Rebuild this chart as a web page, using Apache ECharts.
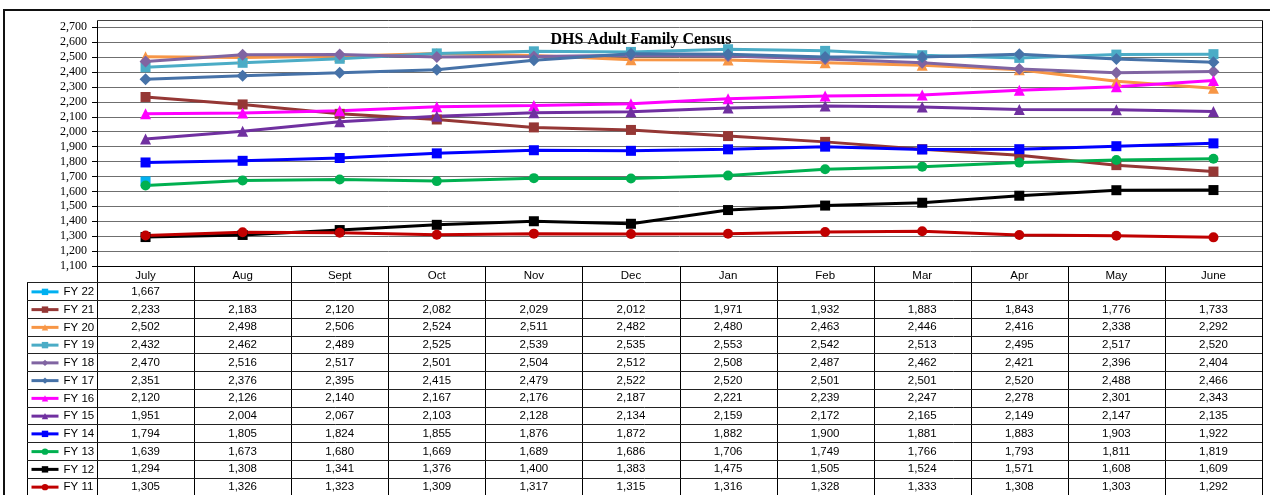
<!DOCTYPE html>
<html>
<head>
<meta charset="utf-8">
<title>DHS Adult Family Census</title>
<script src="https://cdn.jsdelivr.net/npm/echarts@6/dist/echarts.min.js"></script>
<style>
    html, body { margin: 0; padding: 0; background: #fff; }
    #container { width: 1270px; height: 495px; }
</style>
</head>
<body>
<div id="container"></div>
<script>
let months = ['July', 'Aug', 'Sept', 'Oct', 'Nov', 'Dec', 'Jan', 'Feb', 'Mar', 'Apr', 'May', 'June'];

let fy22 = [1667, null, null, null, null, null, null, null, null, null, null, null];
let fy21 = [2233, 2183, 2120, 2082, 2029, 2012, 1971, 1932, 1883, 1843, 1776, 1733];
let fy20 = [2502, 2498, 2506, 2524, 2511, 2482, 2480, 2463, 2446, 2416, 2338, 2292];
let fy19 = [2432, 2462, 2489, 2525, 2539, 2535, 2553, 2542, 2513, 2495, 2517, 2520];
let fy18 = [2470, 2516, 2517, 2501, 2504, 2512, 2508, 2487, 2462, 2421, 2396, 2404];
let fy17 = [2351, 2376, 2395, 2415, 2479, 2522, 2520, 2501, 2501, 2520, 2488, 2466];
let fy16 = [2120, 2126, 2140, 2167, 2176, 2187, 2221, 2239, 2247, 2278, 2301, 2343];
let fy15 = [1951, 2004, 2067, 2103, 2128, 2134, 2159, 2172, 2165, 2149, 2147, 2135];
let fy14 = [1794, 1805, 1824, 1855, 1876, 1872, 1882, 1900, 1881, 1883, 1903, 1922];
let fy13 = [1639, 1673, 1680, 1669, 1689, 1686, 1706, 1749, 1766, 1793, 1811, 1819];
let fy12 = [1294, 1308, 1341, 1376, 1400, 1383, 1475, 1505, 1524, 1571, 1608, 1609];
let fy11 = [1305, 1326, 1323, 1309, 1317, 1315, 1316, 1328, 1333, 1308, 1303, 1292];

let seriesNames = ['FY 22', 'FY 21', 'FY 20', 'FY 19', 'FY 18', 'FY 17', 'FY 16', 'FY 15', 'FY 14', 'FY 13', 'FY 12', 'FY 11'];
let seriesData = [fy22, fy21, fy20, fy19, fy18, fy17, fy16, fy15, fy14, fy13, fy12, fy11];
let seriesColors = ['#00B0F0', '#953735', '#F79646', '#4BACC6', '#8064A2', '#4672A8', '#FF00FF', '#7030A0', '#0000FF', '#00B050', '#000000', '#C00000'];
let seriesSymbols = ['rect', 'rect', 'triangle', 'rect', 'diamond', 'diamond', 'triangle', 'triangle', 'rect', 'circle', 'rect', 'circle'];
let symbolSizes = { rect: 10, circle: 10, triangle: 11, diamond: 12 };

let sansFont = '"Liberation Sans", Arial, sans-serif';
let serifFont = '"Liberation Serif", "Times New Roman", serif';

function fmt(v){
    if (v === null || v === undefined) return '';
    return String(v).replace(/\B(?=(\d{3})+(?!\d))/g, ',');
}

const dom = document.getElementById("container");
const myChart = echarts.init(dom);

const series = seriesNames.map(function(name, i){
    return {
        name: name,
        type: 'line',
        data: seriesData[i],
        symbol: seriesSymbols[i],
        symbolSize: symbolSizes[seriesSymbols[i]],
        showAllSymbol: true,
        lineStyle: { width: 3, color: seriesColors[i] },
        itemStyle: { color: seriesColors[i] }
    };
});

const option = {
    animation: false,
    title: {
        text: 'DHS Adult Family Census',
        left: 636,
        textAlign: 'center',
        top: 27,
        textStyle: { fontFamily: serifFont, fontSize: 16, fontWeight: 'bold', color: '#000' }
    },
    legend: {
        data: seriesNames,
        orient: 'vertical',
        left: 30,
        top: 283,
        height: 240,
        padding: 0,
        itemGap: 0,
        itemWidth: 27,
        itemHeight: 8,
        selectedMode: false,
        lineStyle: { width: 3 },
        textStyle: { fontFamily: sansFont, fontSize: 11.5, color: '#000', lineHeight: 17.75 }
    },
    grid: {
        left: 97,
        right: 8,
        top: 27.3,
        bottom: 229
    },
    xAxis: {
        type: 'category',
        data: months,
        boundaryGap: true,
        axisLine: { lineStyle: { color: '#000', width: 1 } },
        axisTick: { show: false },
        axisLabel: { margin: 4, fontFamily: sansFont, fontSize: 11.5, color: '#000' }
    },
    yAxis: {
        type: 'value',
        min: 1100,
        max: 2700,
        interval: 100,
        axisLine: { show: true, lineStyle: { color: '#000', width: 1 } },
        axisTick: { show: true, length: 5, lineStyle: { color: '#000' } },
        axisLabel: {
            margin: 10,
            fontFamily: serifFont,
            fontSize: 12,
            color: '#000',
            formatter: function(v){ return fmt(v); }
        },
        splitLine: { lineStyle: { color: '#6f6f6f', width: 1 } }
    },
    series: series
};
myChart.setOption(option, true);

function line(x1, y1, x2, y2, color, w){
    return {
        type: 'line',
        silent: true,
        shape: { x1: x1, y1: y1, x2: x2, y2: y2 },
        style: { stroke: color || '#000', lineWidth: w || 1 }
    };
}

function drawTable(){
    const items = [];
    const xs = months.map(function(m){ return myChart.convertToPixel({ xAxisIndex: 0 }, m); });
    const step = xs[1] - xs[0];
    const tableLeft = xs[0] - step / 2;
    const tableRight = xs[xs.length - 1] + step / 2;
    const keyLeft = 27;
    const headTop = 266;
    const rowTop = 282.3;
    const rowH = 17.75;
    const bottom = 500;

    // outer chart border + plot frame
    items.push({
        type: 'rect', silent: true,
        shape: { x: 4, y: 10, width: 1300, height: 600 },
        style: { fill: null, stroke: '#111', lineWidth: 2 }
    });
    items.push(line(Math.round(tableLeft) + 0.5, 20.5, Math.round(tableRight) + 0.5, 20.5, '#444'));
    items.push(line(Math.round(tableLeft) + 0.5, 20.5, Math.round(tableLeft) + 0.5, headTop, '#000'));

    // column lines of the data table
    for (let i = 0; i <= months.length; i++) {
        const x = Math.round(tableLeft + i * step) + 0.5;
        items.push(line(x, i === months.length ? 20.5 : headTop, x, bottom));
    }
    items.push(line(keyLeft + 0.5, rowTop, keyLeft + 0.5, bottom));

    // row lines
    for (let r = 0; r <= seriesNames.length; r++) {
        const y = Math.round(rowTop + r * rowH) + 0.5;
        items.push(line(keyLeft, y, tableRight, y, '#222'));
    }

    // cell values
    seriesData.forEach(function(row, r){
        const cy = rowTop + r * rowH + rowH / 2 + 0.5;
        row.forEach(function(v, i){
            items.push({
                type: 'text', silent: true,
                x: xs[i], y: cy,
                style: {
                    text: fmt(v),
                    textAlign: 'center',
                    textVerticalAlign: 'middle',
                    font: '11.5px ' + sansFont,
                    fill: '#000'
                }
            });
        });
    });

    myChart.setOption({ graphic: items });
}

drawTable();
</script>
</body>
</html>
